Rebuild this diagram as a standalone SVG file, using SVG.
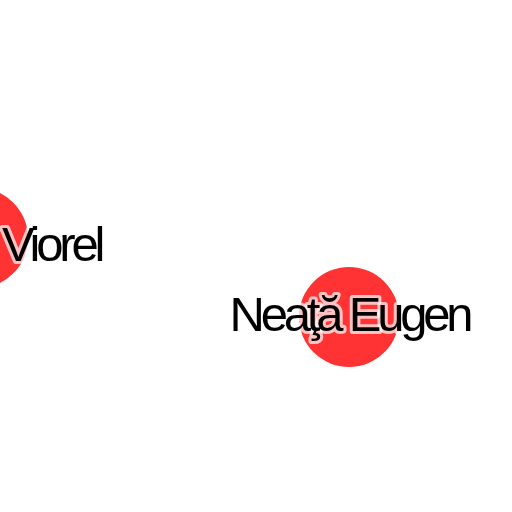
<svg xmlns="http://www.w3.org/2000/svg" width="512" height="512" viewBox="0 0 512 512">
<style>
.node circle{fill:#ff3333;}
.node text{font-family:"Liberation Sans",Arial,sans-serif;font-size:49px;letter-spacing:-4.2px;fill:#000;stroke:#fff;stroke-opacity:0.7;stroke-width:6px;stroke-linejoin:round;paint-order:stroke;}
</style>
<rect width="512" height="512" fill="#fff"/>
<g id="connectors"></g>
<g id="node-viorel" class="node">
<circle cx="-22" cy="238" r="50"/>
<text x="2" y="260.5">Viorel</text>
</g>
<g id="node-neata" class="node">
<circle cx="349" cy="317" r="50"/>
<text x="229.5" y="330.5">Neaţă Eugen</text>
</g>
</svg>
